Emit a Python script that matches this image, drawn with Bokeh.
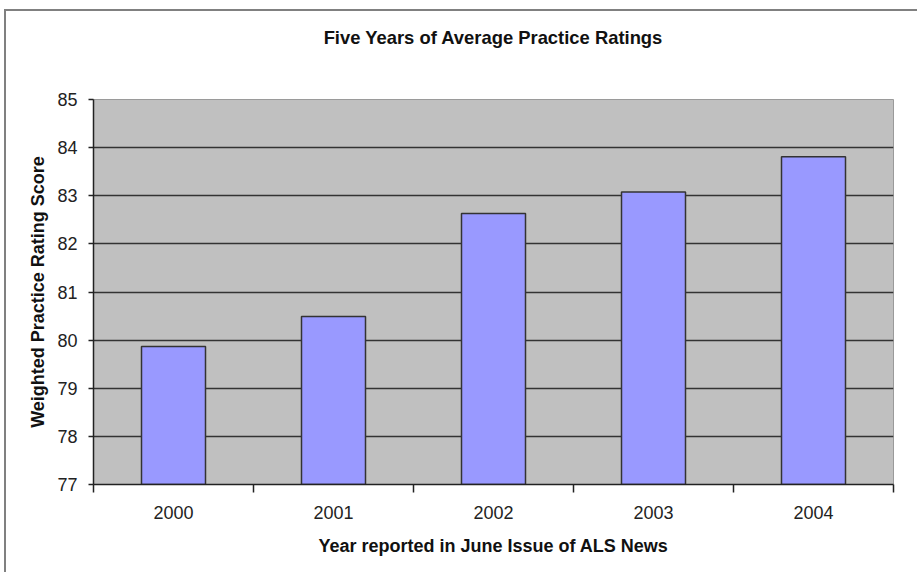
from bokeh.plotting import figure
from bokeh.models import FixedTicker, Range1d, LinearAxis
from bokeh.embed import file_html
from bokeh.resources import INLINE

years = ["2000", "2001", "2002", "2003", "2004"]
scores = [79.87, 80.49, 82.63, 83.08, 83.81]
y_ticks = [77, 78, 79, 80, 81, 82, 83, 84, 85]
grid_ticks = [78, 79, 80, 81, 82, 83, 84]

title_text = "Five Years of Average Practice Ratings"
x_label = "Year reported in June Issue of ALS News"
y_label = "Weighted Practice Rating Score"

FONT = "Liberation Sans"

xs = [i + 0.5 for i in range(len(years))]
bounds = list(range(len(years) + 1))

p = figure(width=913, height=563, output_backend="svg", toolbar_location=None,
           x_range=Range1d(0, len(years)), y_range=Range1d(y_ticks[0], y_ticks[-1]),
           min_border_left=87, min_border_right=26, min_border_top=88, min_border_bottom=90)

p.styles = {"border-left": "2px solid #808080", "border-top": "2px solid #808080",
            "margin-left": "4px", "margin-top": "9px"}

p.background_fill_color = "#C0C0C0"
p.border_fill_color = "white"
p.outline_line_color = "#9a9a9a"
p.outline_line_width = 1

p.vbar(x=xs, top=scores, bottom=y_ticks[0], width=0.4,
       fill_color="#9999FF", line_color="#333333", line_width=1.5)

# chart title, drawn as the label of a bare axis above the plot area
p.title.visible = False
title_axis = LinearAxis(ticker=FixedTicker(ticks=[]), axis_line_color=None,
                        major_tick_line_color=None, minor_tick_line_color=None,
                        major_tick_out=0, major_tick_in=0, major_label_standoff=0,
                        bounds=(0, 4.68),
                        axis_label=title_text, axis_label_standoff=52,
                        axis_label_text_font=FONT, axis_label_text_font_size="18.4px",
                        axis_label_text_font_style="bold", axis_label_text_color="#111111")
p.add_layout(title_axis, "above")

# grid
p.xgrid.visible = False
p.ygrid.ticker = FixedTicker(ticks=grid_ticks)
p.ygrid.grid_line_color = "#333333"
p.ygrid.grid_line_width = 1.6

# x axis
xa = p.below[0]
xa.ticker = FixedTicker(ticks=xs, minor_ticks=bounds)
xa.major_label_overrides = {x: y for x, y in zip(xs, years)}
xa.major_tick_line_color = None
xa.major_tick_out = 0
xa.major_tick_in = 0
xa.minor_tick_line_color = "#222222"
xa.minor_tick_out = 8
xa.minor_tick_in = 0
xa.minor_tick_line_width = 1.5
xa.axis_line_color = "#222222"
xa.axis_line_width = 1.5
xa.major_label_standoff = 13
xa.major_label_text_font = FONT
xa.major_label_text_font_size = "18px"
xa.major_label_text_color = "#222222"
xa.axis_label = x_label
xa.axis_label_text_font = FONT
xa.axis_label_text_font_size = "18px"
xa.axis_label_text_font_style = "bold"
xa.axis_label_text_color = "#111111"
xa.axis_label_standoff = 14

# y axis
ya = p.left[0]
ya.ticker = FixedTicker(ticks=y_ticks)
ya.major_tick_out = 5
ya.major_tick_in = 0
ya.major_tick_line_color = "#222222"
ya.major_tick_line_width = 1.5
ya.minor_tick_line_color = None
ya.axis_line_color = "#222222"
ya.axis_line_width = 1.5
ya.major_label_standoff = 11
ya.major_label_text_font = FONT
ya.major_label_text_font_size = "18px"
ya.major_label_text_color = "#222222"
ya.axis_label = y_label
ya.axis_label_text_font = FONT
ya.axis_label_text_font_size = "18px"
ya.axis_label_text_font_style = "bold"
ya.axis_label_text_color = "#111111"
ya.axis_label_standoff = 6

open("out.html", "w").write(file_html(p, INLINE))
